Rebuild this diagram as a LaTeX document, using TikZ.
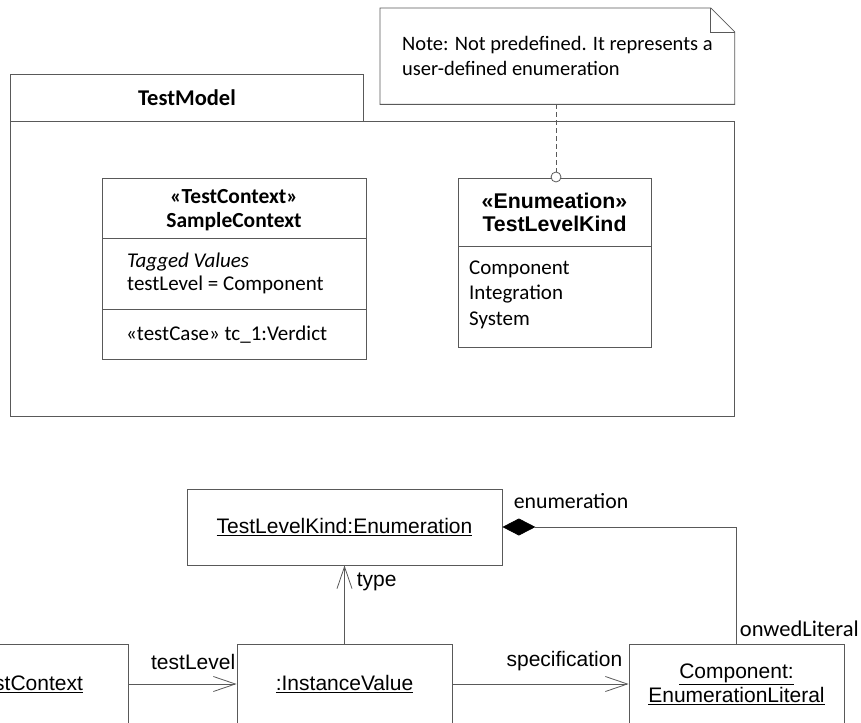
\documentclass[tikz,border=0pt]{standalone}
\usepackage{fontspec}
\setmainfont{Carlito}
\newfontfamily\arialfont{Liberation Sans}
\usetikzlibrary{arrows.meta}
\usetikzlibrary{positioning}

\begin{document}
\begin{tikzpicture}
    [
    x=1pt, y=-1pt,
    line/.style={
        draw=black!65,
        line width=0.8pt
    },
    box/.style={
        line,
        rectangle,
        inner sep=0pt,
        anchor=north west,
        align=center
    },
    txt/.style={
        inner sep=0pt,
        font=\fontsize{20.5}{25}\selectfont
    },
    objbox/.style={
        line,
        rectangle,
        inner sep=0pt,
        align=center,
        minimum width=215pt,
        font=\arialfont\fontsize{21}{24}\selectfont
    },
    lbl/.style={
        inner sep=0pt,
        font=\arialfont\fontsize{21}{24}\selectfont
    },
    open/.style={
        line,
        -{Straight Barb[length=22pt,width=15pt]}
    },
    ]

    \useasboundingbox (0,0) rectangle (861,722);
    \clip (0,0) rectangle (861,722);

    % note with folded corner
    \node[txt, anchor=north west, align=left, inner xsep=22pt,
          minimum width=354pt, minimum height=96pt] (note) at (380,8)
          {Note: Not predefined. It represents a\\user-defined enumeration};
    \draw[line] (note.north west) -- ([xshift=-24pt]note.north east)
        -- ([yshift=-24pt]note.north east) -- (note.south east)
        -- (note.south west) -- cycle;
    \draw[line] ([xshift=-24pt]note.north east)
        -- ([xshift=-24pt,yshift=-24pt]note.north east)
        -- ([yshift=-24pt]note.north east);

    % package
    \node[box, minimum width=353pt, minimum height=47pt,
          font=\fontsize{22.5}{25}\selectfont\bfseries] (tab) at (10,74) {TestModel};
    \node[box, minimum width=724pt, minimum height=295pt] (pkg) at (10,121) {};

    % test context class
    \node[box, minimum width=264pt, minimum height=181pt] (ctx) at (102,178) {};
    \draw[line] ([yshift=-60pt]ctx.north west) -- ([yshift=-60pt]ctx.north east);
    \draw[line] ([yshift=-131pt]ctx.north west) -- ([yshift=-131pt]ctx.north east);
    \node[txt, align=center, font=\fontsize{21.5}{24}\selectfont\bfseries] (ctxname) at (234,210)
        {«TestContext»\\SampleContext};
    \node[txt, align=left, anchor=west, font=\fontsize{21}{23}\selectfont] (ctxtag) at (127,273.5)
        {\textit{Tagged Values}\\testLevel = Component};
    \node[txt, anchor=west, font=\fontsize{21}{23}\selectfont] (ctxop) at (126,335) {«testCase» tc\_1:Verdict};

    % enumeration class
    \node[box, minimum width=193pt, minimum height=169pt] (enum) at (458,178) {};
    \draw[line] ([yshift=-68pt]enum.north west) -- ([yshift=-68pt]enum.north east);
    \node[txt, align=center, font=\arialfont\fontsize{21.3}{22.5}\selectfont\bfseries] (enumname) at (554.5,212.5)
        {«Enumeation»\\TestLevelKind};
    \node[txt, align=left, anchor=west, font=\fontsize{21}{25.5}\selectfont] (enumlit) at (469,294.5)
        {Component\\Integration\\System};

    \node[line, circle, fill=white, minimum size=10pt, inner sep=0pt] (ring) at (556,177) {};
    \draw[line, dash pattern=on 5pt off 3pt] (ring.north |- note.south) -- (ring.north);

    % instance diagram
    \node[objbox, minimum width=315pt, minimum height=76pt] (tlk) at (344.5,527) {\underline{TestLevelKind:Enumeration}};
    \node[objbox, minimum width=207pt, minimum height=80pt] (tc) at (24.5,684) {\underline{:TestContext}};
    \node[objbox, minimum height=80pt] (iv) at (344.5,684) {\underline{:InstanceValue}};
    \node[objbox, minimum height=80pt] (lit) at (736.5,684) {\underline{Component:}\\\underline{EnumerationLiteral}};

    \draw[open] (tc) -- (iv)
        node[lbl, pos=1, anchor=base east, xshift=-1pt, yshift=14.5pt] {testLevel};
    \draw[open] (iv) -- (lit)
        node[lbl, pos=1, anchor=base east, xshift=-6pt, yshift=18pt] {specification};
    \draw[open] (iv) -- (tlk)
        node[lbl, pos=1, anchor=base west, xshift=12pt, yshift=-21pt] {type};
    \draw[line, {Diamond[length=33pt,width=17pt,color=black]}-] (tlk.east) -| (lit.north)
        node[txt, pos=0, anchor=base west, xshift=11pt, yshift=19pt,
             font=\fontsize{21.8}{25}\selectfont] {enumeration}
        node[txt, pos=1, anchor=base west, xshift=3pt, yshift=7pt,
             font=\fontsize{22.5}{25}\selectfont] {onwedLiteral};

\end{tikzpicture}
\end{document}
